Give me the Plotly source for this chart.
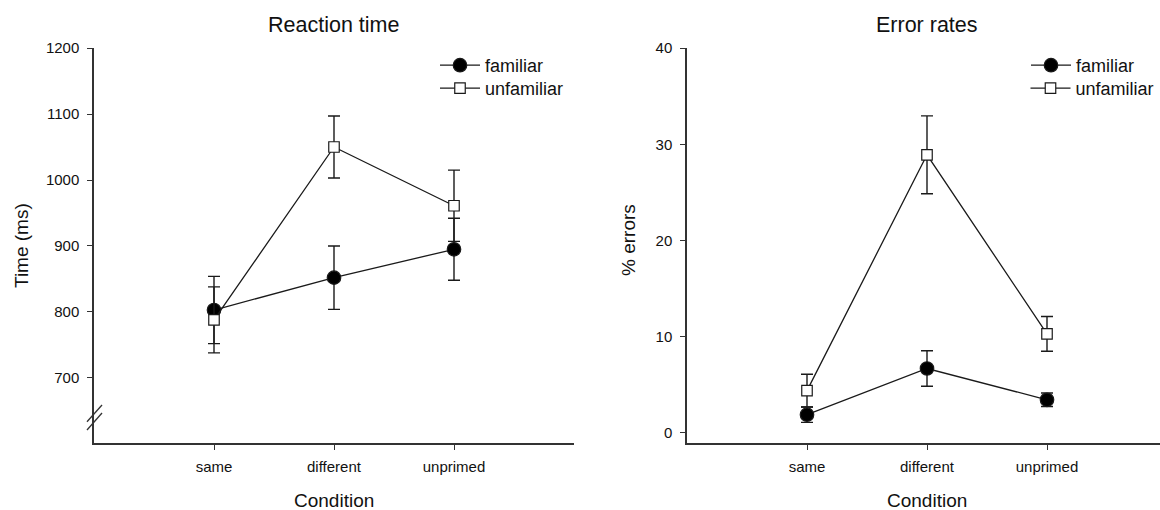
import plotly.graph_objects as go

conditions = ["same", "different", "unprimed"]
cond_pos = [1, 2, 3]

rt_familiar = [803, 852, 895]
rt_familiar_err = [51, 48, 47]
rt_unfamiliar = [788, 1050, 961]
rt_unfamiliar_err = [50, 47, 54]

err_familiar = [1.9, 6.7, 3.45]
err_familiar_err = [0.8, 1.85, 0.7]
err_unfamiliar = [4.4, 28.9, 10.3]
err_unfamiliar_err = [1.7, 4.05, 1.8]

rt_ticks = [700, 800, 900, 1000, 1100, 1200]
err_ticks = [0, 10, 20, 30, 40]

FONT = "Liberation Sans, Arial, sans-serif"
INK = "#111111"
AX = "#333333"

W, H = 1160, 510

fig = go.Figure()


def add_series(x, y, e, name, symbol, size, fill, xa, ya, legend):
    fig.add_trace(go.Scatter(
        x=x, y=y, name=name, mode="lines+markers",
        xaxis=xa, yaxis=ya, legend=legend, showlegend=True,
        line=dict(color="#1a1a1a", width=1.3),
        marker=dict(symbol=symbol, size=size, color=fill,
                    line=dict(color="#1a1a1a", width=1.2)),
        error_y=dict(type="data", array=e, visible=True,
                     color="#1a1a1a", thickness=1.4, width=6),
    ))


add_series(cond_pos, rt_familiar, rt_familiar_err, "familiar", "circle", 13.5, "black", "x", "y", "legend")
add_series(cond_pos, rt_unfamiliar, rt_unfamiliar_err, "unfamiliar", "square", 10.5, "white", "x", "y", "legend2")
add_series(cond_pos, err_familiar, err_familiar_err, "familiar", "circle", 13.5, "black", "x2", "y2", "legend3")
add_series(cond_pos, err_unfamiliar, err_unfamiliar_err, "unfamiliar", "square", 10.5, "white", "x2", "y2", "legend4")

x1l, x1r = 94 / W, 574 / W
x2l, x2r = 687 / W, 1.0
ytop, ybot = 1 - 48 / H, 1 - 443 / H

axis_common = dict(
    showline=True, linecolor=AX, linewidth=1.5, mirror=False,
    showgrid=False, zeroline=False, ticks="outside", ticklen=5,
    tickwidth=1.3, tickcolor=AX,
    tickfont=dict(family=FONT, size=15, color=INK),
    automargin=False,
)
xaxis_common = dict(axis_common, ticklabelstandoff=4)
yaxis_common = dict(axis_common, ticklabelstandoff=5)


def leg(xpx, ypx, anchor="left"):
    return dict(x=xpx / W, y=1 - ypx / H, xanchor=anchor, yanchor="top",
                bgcolor="rgba(0,0,0,0)", font=dict(family=FONT, size=18, color=INK),
                itemsizing="trace", itemwidth=40, visible=True)


fig.update_layout(
    width=W, height=H,
    showlegend=True,
    margin=dict(l=0, r=0, t=0, b=0),
    paper_bgcolor="white", plot_bgcolor="white",
    font=dict(family=FONT, color=INK),
    xaxis=dict(domain=[x1l, x1r], range=[0, 4], tickvals=cond_pos,
               ticktext=conditions, anchor="y", **xaxis_common),
    yaxis=dict(domain=[ybot, ytop], range=[601.5, 1200], tickvals=rt_ticks,
               anchor="x", **yaxis_common),
    xaxis2=dict(domain=[x2l, x2r], range=[0, 473 / 120], tickvals=cond_pos,
                ticktext=conditions, anchor="y2", **xaxis_common),
    yaxis2=dict(domain=[ybot, ytop], range=[-1.04, 40], tickvals=err_ticks,
                anchor="x2", **yaxis_common),
    legend=leg(435, 47),
    legend2=leg(435, 70),
    legend3=leg(1026, 47),
    legend4=leg(W - 0.5, 70, anchor="right"),
)

ann = []
def text(x, y, s, size, angle=0):
    ann.append(dict(x=x / W, y=1 - y / H, xref="paper", yref="paper", text=s,
                    showarrow=False, xanchor="center", yanchor="middle",
                    textangle=angle, font=dict(family=FONT, size=size, color=INK)))

text(333, 25, "Reaction time", 21.5)
text(927, 25, "Error rates", 21.5)
text(334, 500, "Condition", 19)
text(927, 500, "Condition", 19)
text(21, 246, "Time (ms)", 19, -90)
text(628, 240, "% errors", 19, -90)
fig.update_layout(annotations=ann)

# axis break marks on the left y axis
for y0, y1 in [(405, 421.7), (413, 430)]:
    fig.add_shape(type="line", xref="paper", yref="paper",
                  x0=87 / W, x1=102 / W, y0=1 - y1 / H, y1=1 - y0 / H,
                  line=dict(color=AX, width=1.3))

fig.write_html("out.html")
